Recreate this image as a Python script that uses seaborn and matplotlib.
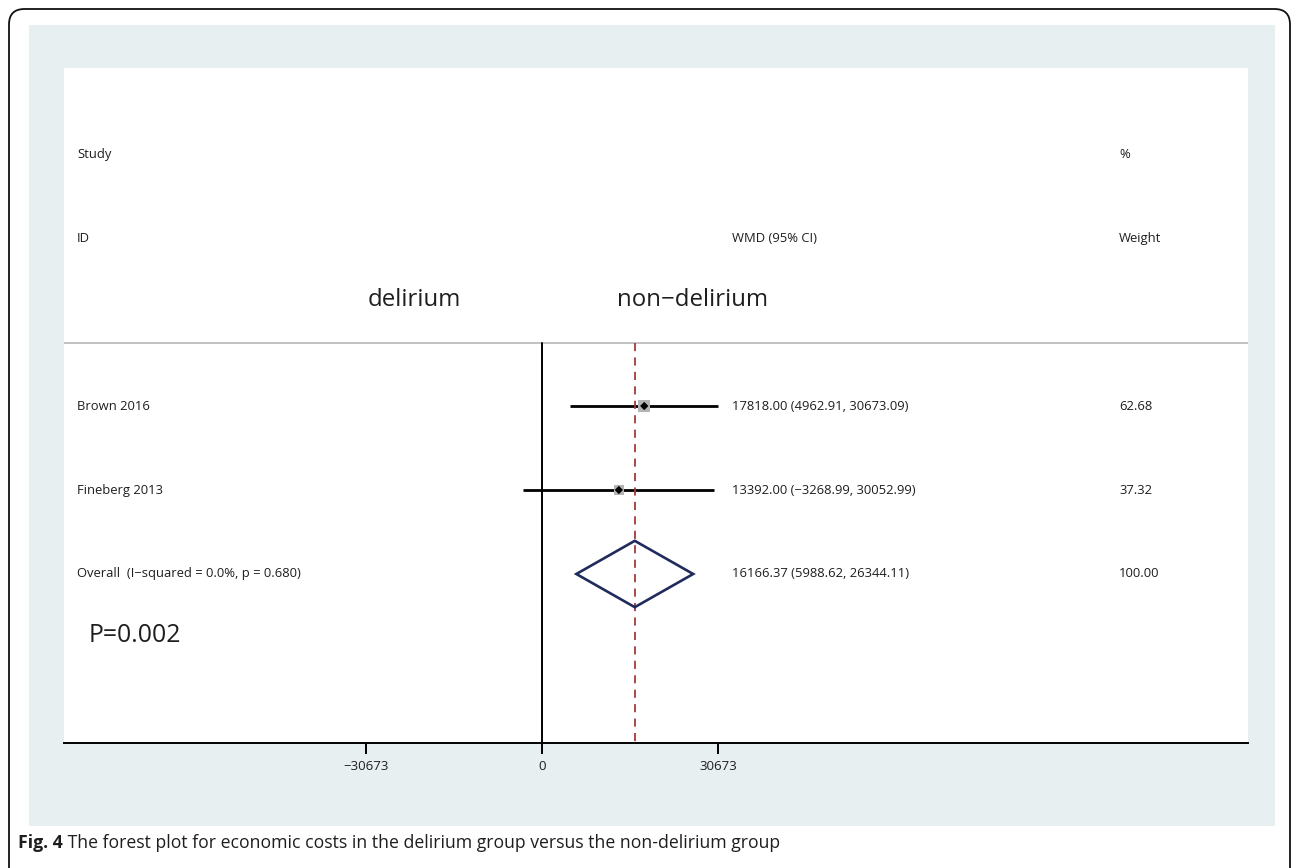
import matplotlib
matplotlib.use("Agg")
import matplotlib.pyplot as plt
from matplotlib.patches import Rectangle, FancyBboxPatch, Polygon
import numpy as np
import pandas as pd
import seaborn as sns

# ---- data ----
studies = ["Brown 2016", "Fineberg 2013"]
wmd = [17818.00, 13392.00]
ci_low = [4962.91, -3268.99]
ci_high = [30673.09, 30052.99]
weights = [62.68, 37.32]

overall_label = "Overall  (I\u2212squared = 0.0%, p = 0.680)"
overall_wmd = 16166.37
overall_low = 5988.62
overall_high = 26344.11
overall_weight = 100.00

tick_values = [-30673, 0, 30673]
p_text = "P=0.002"
caption_bold = "Fig. 4"
caption_rest = " The forest plot for economic costs in the delirium group versus the non-delirium group"

# ---- style ----
sns.set_theme(style="white")
plt.rcParams["font.family"] = ["Open Sans", "DejaVu Sans"]
TXT = "#1e1e1e"
PANEL = "#e7eff1"

W, H = 1292, 868
fig = plt.figure(figsize=(W / 100, H / 100), dpi=100)
fig.patch.set_facecolor("white")

def fx(px):
    return px / W

def fy(py):
    return 1 - py / H

# outer rounded frame and tinted panel
frame = FancyBboxPatch((fx(9), fy(905)), fx(1281), 896 / H,
                       boxstyle="round,pad=0,rounding_size=0.012",
                       transform=fig.transFigure, fill=False,
                       edgecolor="#111111", linewidth=1.3, zorder=0,
                       mutation_aspect=W / H)
fig.patches.append(frame)
fig.patches.append(Rectangle((fx(29), fy(826)), fx(1275 - 29), (826 - 25) / H,
                             transform=fig.transFigure, facecolor=PANEL,
                             edgecolor="none", zorder=0))

# plotting area
ax = fig.add_axes([fx(64), fy(743), fx(1248 - 64), (743 - 68) / H])
ax.set_zorder(2)
ax.set_facecolor("white")

x_left, x_right = -83305, 123039
ax.set_xlim(x_left, x_right)
ax.set_ylim(5.012, -3.024)

rows = np.arange(1, len(studies) + 1)
overall_row = len(studies) + 1

df = pd.DataFrame({"study": studies, "wmd": wmd, "lo": ci_low, "hi": ci_high,
                   "weight": weights, "row": rows})

# reference lines
line_top = 0.25
ax.plot([0, 0], [line_top, 5.012], color="black", lw=1.4, zorder=2)
ax.plot([overall_wmd, overall_wmd], [line_top, 5.012], color="#a33a3a",
        lw=1.3, ls=(0, (4.5, 3.5)), zorder=4)
ax.axhline(line_top, color="#bdbdbd", lw=1.3, zorder=1)

# confidence intervals
for _, r in df.iterrows():
    ax.plot([r.lo, r.hi], [r.row, r.row], color="black", lw=2.0,
            solid_capstyle="butt", zorder=3)

# weight boxes and point estimates
sns.scatterplot(data=df, x="wmd", y="row", size="weight", sizes=(48, 80),
                size_norm=(37.32, 62.68), marker="s", color="#b4b4b4",
                edgecolor="none", legend=False, ax=ax, zorder=3.5)
sns.scatterplot(data=df, x="wmd", y="row", marker="D", s=18, color="black",
                edgecolor="none", legend=False, ax=ax, zorder=5)

# pooled diamond
half_h = 0.395
diamond = Polygon([[overall_low, overall_row], [overall_wmd, overall_row - half_h],
                   [overall_high, overall_row], [overall_wmd, overall_row + half_h]],
                  closed=True, fill=False, edgecolor="#1f2b5c", lw=1.9, zorder=6)
ax.add_patch(diamond)

# axis
for s in ["top", "left", "right"]:
    ax.spines[s].set_visible(False)
ax.spines["bottom"].set_color("black")
ax.spines["bottom"].set_linewidth(1.4)
ax.set_xticks(tick_values)
ax.set_xticklabels([f"{v:d}".replace("-", "\u2212") for v in tick_values])
ax.tick_params(axis="x", bottom=True, length=8, width=1.4, color="black",
               labelsize=9.5, labelcolor=TXT, pad=4)
ax.set_yticks([])
ax.set_xlabel("")
ax.set_ylabel("")

# text columns
tx = ax.get_yaxis_transform()
col_label = 0.011
col_est = 0.5645
col_w = 0.891
fs = 9.4

def fmt(v):
    return f"{v:.2f}".replace("-", "\u2212")

ax.text(col_label, -2, "Study", transform=tx, fontsize=fs, color=TXT, va="center")
ax.text(col_label, -1, "ID", transform=tx, fontsize=fs, color=TXT, va="center")
ax.text(col_est, -1, "WMD (95% CI)", transform=tx, fontsize=fs, color=TXT, va="center")
ax.text(col_w, -2, "%", transform=tx, fontsize=fs, color=TXT, va="center")
ax.text(col_w, -1, "Weight", transform=tx, fontsize=fs, color=TXT, va="center")

for _, r in df.iterrows():
    ax.text(col_label, r.row, r.study, transform=tx, fontsize=fs, color=TXT, va="center")
    ax.text(col_est, r.row, f"{fmt(r.wmd)} ({fmt(r.lo)}, {fmt(r.hi)})",
            transform=tx, fontsize=fs, color=TXT, va="center")
    ax.text(col_w, r.row, f"{r.weight:.2f}", transform=tx, fontsize=fs,
            color=TXT, va="center")

ax.text(col_label, overall_row, overall_label, transform=tx, fontsize=fs,
        color=TXT, va="center")
ax.text(col_est, overall_row, f"{fmt(overall_wmd)} ({fmt(overall_low)}, {fmt(overall_high)})",
        transform=tx, fontsize=fs, color=TXT, va="center")
ax.text(col_w, overall_row, f"{overall_weight:.2f}", transform=tx, fontsize=fs,
        color=TXT, va="center")

# group labels and p-value
ax.text(0.2565, -0.26, "delirium", transform=tx, fontsize=17.3, color=TXT, va="center")
ax.text(0.467, -0.26, "non\u2212delirium", transform=tx, fontsize=17.3, color=TXT, va="center")
ax.text(0.021, 3.73, p_text, transform=tx, fontsize=17.8, color=TXT, va="center")

# caption
t1 = fig.text(fx(18), fy(843), caption_bold, fontsize=12.7, fontweight="bold",
              color=TXT, va="center")
fig.canvas.draw()
bb = t1.get_window_extent()
fig.text(bb.x1 / W, fy(843), caption_rest, fontsize=12.7, color=TXT, va="center")

fig.savefig("out.png", dpi=100)
